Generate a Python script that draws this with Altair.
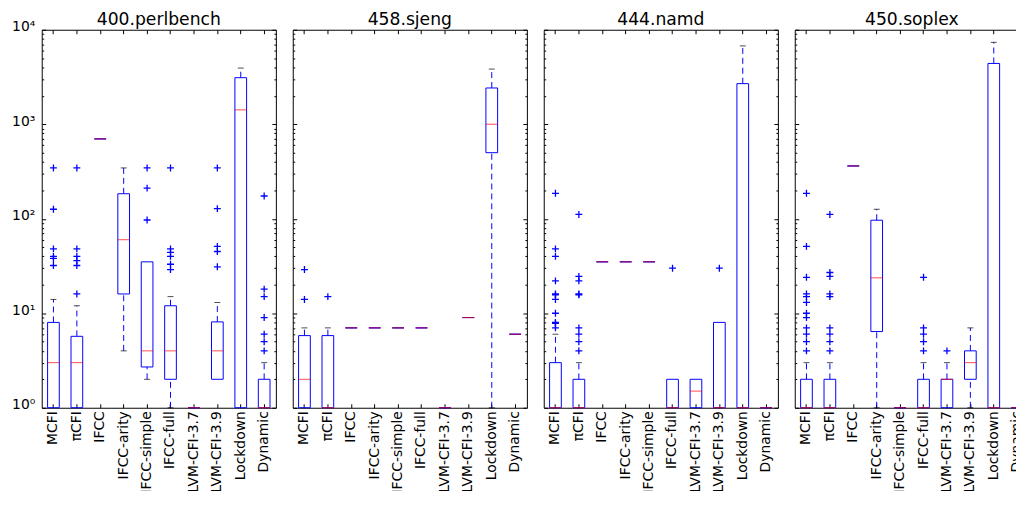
import altair as alt
import pandas as pd

CATS = ["MCFI", "πCFI", "IFCC", "IFCC-arity", "IFCC-simple", "IFCC-full",
        "LLVM-CFI-3.7", "LLVM-CFI-3.9", "Lockdown", "Dynamic"]

# ---- 400.perlbench
perl_q1 = [1, 1, 700, 16, 2.7, 2, 1, 2, 1, 1]
perl_med = [3, 3, 700, 60, 4, 4, 1, 4, 1420, 1]
perl_q3 = [8, 5.7, 700, 184, 35, 12, 1, 8.1, 3110, 2]
perl_lo = [1, 1, 700, 4, 2, 1, 1, 2, 1, 1]
perl_hi = [14, 12, 700, 345, 35, 15, 1, 13, 3930, 3]
perl_out = [[345, 126, 48, 40, 38, 32], [345, 48, 40, 36, 32, 16], [], [],
            [345, 211, 97], [345, 48, 44, 40, 33, 29], [],
            [345, 128, 51, 45, 31], [], [174, 18, 15, 9, 6, 5, 4]]

# ---- 458.sjeng
sjeng_q1 = [1, 1, 7, 7, 7, 7, 1, 9, 500, 6]
sjeng_med = [2, 1, 7, 7, 7, 7, 1, 9, 1000, 6]
sjeng_q3 = [5.8, 5.8, 7, 7, 7, 7, 1, 9, 2420, 6]
sjeng_lo = [1, 1, 7, 7, 7, 7, 1, 9, 1, 6]
sjeng_hi = [7, 7, 7, 7, 7, 7, 1, 9, 3835, 6]
sjeng_out = [[29, 14], [15], [], [], [], [], [], [], [], []]

# ---- 444.namd
namd_q1 = [1, 1, 35, 35, 35, 1, 1, 1, 1, 1]
namd_med = [1, 1, 35, 35, 35, 1, 1.5, 1, 1, 1]
namd_q3 = [3, 2, 35, 35, 35, 2, 2, 8, 2690, 1]
namd_lo = [1, 1, 35, 35, 35, 1, 1, 1, 1, 1]
namd_hi = [6, 3, 35, 35, 35, 2, 2, 8, 6745, 1]
namd_out = [[186, 48, 40, 22, 16, 15.7, 14, 10, 8, 7.8, 7],
            [111, 24.5, 22, 16, 15.7, 7, 6, 5, 4], [], [], [], [30], [], [30], [], []]

# ---- 450.soplex
soplex_q1 = [1, 1, 362, 6.4, 1, 1, 1, 2, 1, 1]
soplex_med = [1, 1, 362, 23.7, 1, 1, 2, 3, 1, 1]
soplex_q3 = [2, 2, 362, 96.5, 1, 2, 2, 4, 4400, 1]
soplex_lo = [1, 1, 362, 1, 1, 1, 1, 1, 1, 1]
soplex_hi = [3, 3, 362, 126, 1, 3, 3, 7, 7360, 1]
soplex_out = [[186, 51, 24, 16, 15, 13, 10, 9, 7, 6, 5, 4],
              [111, 27, 24.5, 16, 15, 7, 6, 5, 4], [], [], [],
              [24, 7, 6, 5, 4], [4], [], [], []]

W, H = 236, 381
FONT = "DejaVu Sans"
BLUE, RED = "#0000ff", "#ff0000"
MAJ = [1, 10, 100, 1000, 10000]
YT = sorted(MAJ + [m * 10 ** k for k in range(4) for m in range(2, 10)])
TICK_COND = {"condition": {"test": "indexof([1,10,100,1000,10000], datum.value) >= 0",
                           "value": 4}, "value": 2}

xscale = alt.Scale(type="band", domain=CATS, paddingInner=0, paddingOuter=0)
yscale = alt.Scale(type="log", domain=[1, 10000], nice=False)


def y_tick_axis(orient):
    return alt.Axis(orient=orient, offset=-W, values=YT, labels=False, domain=False,
                    grid=False, ticks=True, tickSize=TICK_COND, tickColor="black",
                    tickWidth=1, title=None)


def x_tick_axis(orient):
    return alt.Axis(orient=orient, offset=-H, labels=False, domain=False, grid=False,
                    ticks=True, tickSize=4, tickColor="black", tickWidth=1, title=None)


def panel(name, q1, med, q3, lo, hi, out, first):
    box = pd.DataFrame({"cat": CATS, "q1": q1, "med": med, "q3": q3})
    wh, caps = [], []
    for c, a, b, l, h in zip(CATS, q1, q3, lo, hi):
        if h > b:
            wh.append({"cat": c, "a": b, "b": h})
            caps.append({"cat": c, "v": h})
        if l < a:
            wh.append({"cat": c, "a": l, "b": a})
            caps.append({"cat": c, "v": l})
    outs = [{"cat": c, "v": v} for c, vs in zip(CATS, out) for v in vs]

    if first:
        ylab = alt.Axis(orient="left", values=MAJ, ticks=False, tickSize=0, domain=False,
                        grid=False, labelFont=FONT, labelFontSize=14, labelColor="black",
                        labelPadding=7, labelOffset=-3, minExtent=33, maxExtent=33,
                        labelExpr="'10' + ['⁰','¹','²','³','⁴'][round(log(datum.value)/LN10)]",
                        title=None)
    else:
        ylab = None
    xlab = alt.Axis(orient="bottom", ticks=False, tickSize=0, domain=False, grid=False,
                    labelAngle=270, labelFont=FONT, labelFontSize=14, labelColor="black",
                    labelPadding=3, labelLimit=300, title=None)

    whisk = alt.Chart(pd.DataFrame(wh)).mark_rule(
        color=BLUE, strokeWidth=1, strokeDash=[6, 4]
    ).encode(
        x=alt.X("cat:N", scale=xscale, sort=CATS, axis=xlab),
        y=alt.Y("a:Q", scale=yscale, axis=ylab),
        y2="b:Q",
    )
    capm = alt.Chart(pd.DataFrame(caps)).mark_tick(
        color="black", size=6, thickness=1
    ).encode(
        x=alt.X("cat:N", scale=xscale, sort=CATS, axis=x_tick_axis("top")),
        y=alt.Y("v:Q", scale=yscale, axis=y_tick_axis("right")),
    )
    boxes = alt.Chart(box).mark_bar(
        fill="white", fillOpacity=0, stroke=BLUE, strokeWidth=1,
        width=alt.RelativeBandSize(band=0.5)
    ).encode(
        x=alt.X("cat:N", scale=xscale, sort=CATS, axis=x_tick_axis("bottom")),
        y=alt.Y("q3:Q", scale=yscale, axis=y_tick_axis("left")),
        y2="q1:Q",
    )
    meds = alt.Chart(box).mark_tick(color=RED, size=12, thickness=1).encode(
        x=alt.X("cat:N", scale=xscale, sort=CATS, axis=None),
        y=alt.Y("med:Q", scale=yscale, axis=None),
    )
    layers = [whisk, capm, boxes, meds]
    if outs:
        pts = alt.Chart(pd.DataFrame(outs)).mark_point(
            shape="M-1,0L1,0M0,-1L0,1", filled=False, size=49, strokeWidth=1.3,
            color=BLUE, opacity=1
        ).encode(
            x=alt.X("cat:N", scale=xscale, sort=CATS, axis=None),
            y=alt.Y("v:Q", scale=yscale, axis=None),
        )
        layers.append(pts)
    return alt.layer(*layers).resolve_axis(x="independent", y="independent").properties(
        width=W, height=H,
        title=alt.TitleParams(name, font=FONT, fontSize=17.3, fontWeight="normal",
                              color="black", anchor="middle",
                              offset=-9 if first else 1),
    )


chart = alt.hconcat(
    panel("400.perlbench", perl_q1, perl_med, perl_q3, perl_lo, perl_hi, perl_out, True),
    panel("458.sjeng", sjeng_q1, sjeng_med, sjeng_q3, sjeng_lo, sjeng_hi, sjeng_out, False),
    panel("444.namd", namd_q1, namd_med, namd_q3, namd_lo, namd_hi, namd_out, False),
    panel("450.soplex", soplex_q1, soplex_med, soplex_q3, soplex_lo, soplex_hi, soplex_out, False),
    spacing=15,
).properties(
    padding={"left": 0, "top": 0, "right": -14, "bottom": -12}, background="white"
).configure_view(stroke="black", strokeWidth=1)

chart.save("out.html", embed_options={"renderer": "svg", "actions": False})
